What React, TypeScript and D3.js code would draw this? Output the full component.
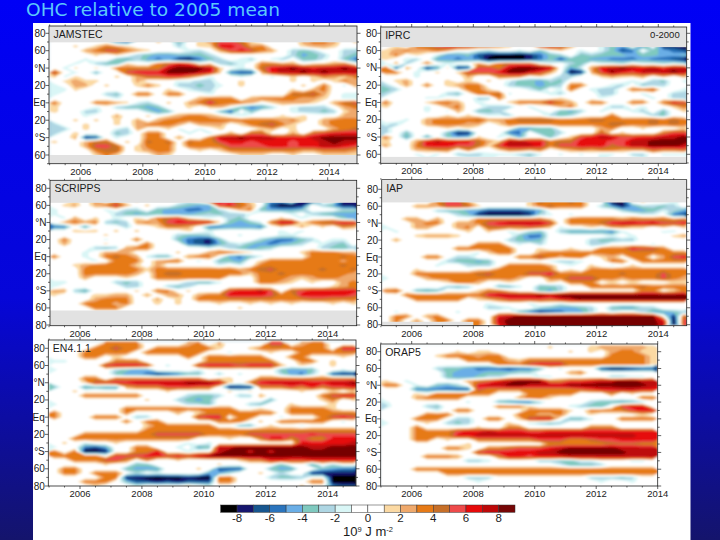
/**
 * Ocean heat content anomaly panels, drawn as filled contours with d3.
 */
import React from 'react';
import * as d3 from 'd3';

// Cell codes: '.' near zero, digit n is +n.5, a..h are -1.5 .. -8.5 (10^9 J m-2).
// Rows go north to south in 5 degree steps, 3 columns per year.
const jamstecRows = [
  '......de.. 1.c.125541 ....2332.1',
  '..1.1321.. ..b.116652 3...1221..',
  '...2355321 ...ab.2565 32.bcb..bb',
  '....1.1.bc ddcccb.... ...bdcb.bc',
  '...a..cdbd edghecb.ab .ab.cca.ce',
  '..a.bcc1.. 3465.1bca. 3322.1123.',
  '.a1.1.3333 3788871.a. 4678767787',
  '5.a.c..566 6888761eff 2677878777',
  '1a1...1.24 45531a..a. .a.1.13213',
  '.1211...2. ..aabb..1. ...1.1.132',
  'a.22.1..13 1.bbcba.1. ....1.3.a2',
  'aa1....... .1.abb.... ...1.23...',
  'a....bc.33 .33..a.... ...4452.aa',
  '......a... ....2333.2 3333221.aa',
  '3...3321ab .1.2363332 .12221.245',
  '1...a.bccd c..1.12.ce db.abbb.23',
  '1..bb....b dc....cf.c ...abbcb12',
  '...a..2..1 .123321.a. ..1.1...22',
  '..1.1.1.2. 2333333333 33231.2333',
  'b..1..1.23 332.222.13 4531..2333',
  'bb.1..ab2. .1a.a.1... 12.1...234',
  'b.1...cb.3 3..a.a.2.4 4..2.45666',
  '..2gf.a..3 3.2..37787 7766678888',
  '1..244.1.4 34.4335665 6665667877',
  '...2554.13 33.3333555 5665667765',
  '....344.12 33..1.1333 3333223332',
  '....131... 21......11 1..1..1111',
];

const iprcRows = [
  '.1.3456654 421..5652. .acd.d.ggh',
  '1232232..a b..a.c.1.a .acfe.cdef',
  '13.1.addcf ghhhgecb.c bcccdccddc',
  '1.ab.ddede hhhhgecfcc ddeeedeefg',
  'a2b.3.a..2 .3444.a.bc .aab.aabab',
  '3f2.gd1gf5 5378887.da 2678767577',
  '33.a.1.155 5688752.hg 2586577787',
  '...a....2. .333.1.bb. .12112.2.2',
  '.12...1.1. 1.accdbc.. ....a.bc.a',
  'b.2.3.1233 ..bccdcb33 ..ab.cbb..',
  'cb......33 1...ac.a3. abb.334..a',
  'b.....bc.3 34a...ab.. .bb..a..bb',
  '....aa...b b3.....1.. .a....a.bb',
  '3...1332.a ..1333632. 33..33.365',
  '1...a.23.. bbb.a..23. ..bb.a..13',
  '....a.a2.c cb...a.cdb .a..ab.c.1',
  '......1.1. aab...bcb. ..3...bc..',
  '..a.233334 2234444333 4433334343',
  'ab..233322 .133333333 3344334343',
  'b.....1.1. ...ddcc... .23..1...1',
  'b.c...cgg. ..ee.ccb.. .4.1...355',
  '3.d.d.cdc1 .a.d..c.15 6775566778',
  '1..2676664 2177663446 6655778888',
  '2..3666554 1577763556 6645778887',
  '...2233.3. .13323.123 2332224334',
  '...a.a.bbb aaabca.a.a .aa.bb.aaa',
  '....a...aa a...a..... .a...a....',
];

const scrippsRows = [
  '..1.2.2.1. ...a.46531 .dd.gg..gg',
  '.12.2362.1 ..bcdd5642 .fhhg.bdgg',
  'a....a.bb. cddeedb.23 cdddc...bb',
  'a.....bcdc cdddcbcbba ...a.bcddd',
  '.a2.1.a.1. 3451.a.bc. ..1.a...cd',
  '.2323bcb23 2566661cdc a377134566',
  'ee.d...b.. 1332.eeddd e.1.2.1.32',
  '..111.1.1. ...1.a.... ..a.a.....',
  '.....1.... ..bccb..a. ..aa......',
  '.3...a..3. ..cefgc... bdeecb.aa.',
  '.2...1...3 ...efgdbac dedcb.abc.',
  '....bcb233 .....a.bcd cb....bccb',
  '...a.222.. ..1..23321 ....133322',
  '3..a.3432a cc.233.dec a....33343',
  '....a.333. 233.a.ccd. 1333333323',
  '..1233331. 2.....a.a. 3333333343',
  '...3333331 3333333323 4533334334',
  '...333332. 3443333331 3343333332',
  '...2...1.. 3333333... 3332123322',
  'aa....bcb. ...bcca... 3321.1..23',
  'a......bb. .bcb...... .......123',
  '22bd....1. 33.1...566 75.4566666',
  '1...1122.2 .22.233666 6533666665',
  '....2333.. 2.1.333333 3333344333',
  '...33323.. 1.1...1..1 .1.1...1.1',
  '....333... ........1. ..........',
  '.......... .......... ..........',
];

const iapRows = [
  '.....3552. ....143343 ..hh.1..a.',
  '...2225541 ....134333 .bdgdbbcb.',
  '.....bccdd ffffed.... ...bddcabd',
  '.......bcg hhhhgba.a. .....aa.ef',
  '..22.2...3 3333331.33 3332333323',
  '...233.223 5677775.33 3467767556',
  'a..22..23. 4433431a.. 1.2211.1.1',
  '.a......1. 1.a.bc.bdd ddea...aa.',
  '...12221.. ...cee.... ..a.a...12',
  '.2........ ..bcdc.... bccbb.....',
  '.........3 33.a.b.... bb....a...',
  '.......333 333..1..1. .3336553..',
  '.........a 133..23333 3333333333',
  '....33.bb. ...3353233 .12.33.256',
  '......bccd c.....abba ..33.33333',
  '.....a..bb b.33332.a. 1.a.1.....',
  '...1.....1 1333333.1. 3333333333',
  '...3333334 5333556333 3334333533',
  'a...233333 3332..3355 5332333532',
  '......1332 ..1...1.33 3.1.1...11',
  '......bcb. .cca.ccb.. 3333343333',
  '34.cdc...1 331..cdb.. .....33.13',
  '..33333333 6777787888 8888888888',
  '...33333.1 2355554678 8888888888',
  '.......... a...a..a.. ..........',
  '.......... bba..bcddc b.cddbb...',
  '.a.....a.. ...cegfedd b.a..bddcb',
  '.33.23.... .678888888 8888888.g4',
  '.3.2.33.33 .788888888 88888886h5',
  '.3.3.3..33 .688888888 88888887h5',
];

const en4Rows = [
  '.....3333. ...23.2... .55.233...',
  '....33533. 3333331..1 3333333.66',
  '...33333.3 33333..a.. .1..333333',
  '...33.1... ...3.33333 3..33...1.',
  'aa....333. .....33333 33..33.1..',
  '.....56665 .a..566656 662.1..1..',
  'a.....bcdd ....a..... ..cddc..a.',
  '......cdde gfecc.b.a. ..bdeb.fgg',
  '...33.3333 33333.11.. 3333333333',
  '...1556677 77788871.3 6777766778',
  'c..dcdd233 355544.hgg 3335363556',
  '..1....... .1.....1.1 ....1..1.1',
  '...333333. ...bccb.bb 2.....3566',
  '.........1 ..bcdc.... .c....13.1',
  'a......... ...bbc...b c..1...1..',
  '.......333 33333333.. 1..33331..',
  '3......3.. ..2.133333 33.3333333',
  '3...333.bb ....566.33 ..a...3565',
  '.......3.3 3.....333. 1.33333.a.',
  '.........1 333333..cc .1..a.....',
  '.........3 3333333333 3333333333',
  '...3333333 5555533335 5555565555',
  '..33333333 3333...1.. 3663533666',
  '.1.a..1... ...a.a.... ....666667',
  'a..efd..33 ..a.dc7788 8888877888',
  '3.3hhg..33 6..a..7887 8788888888',
  '33333.5556 6565788888 8888888888',
  '..333553.3 ..1.....13 3665566666',
  '.....1..cc ......1... ..c..d.b..',
  '.33....cdd d...1.fff. .cdd..cdee',
  '.33.333.b. a....ddb.. 1.b..ggggg',
  '.....33ggh hhhghh33.. .bccb..hhh',
  '...333.cff gfgfff33.. .....33hhh',
  '....1...a. ...1.a.... ....1..eff',
];

const orapRows = [
  '.......... ......1... 1222221',
  '.......1.1 1.......1. 1.23311',
  '.....13332 33........ ..33331',
  '........33 3321333333 3333331',
  '.......... .333566633 3333331',
  '.....bccde eefeec.a.. .fhhgff',
  '......cddd cccbb...23 .......',
  '......cddc bb...aa... ..bbaa.',
  '1.a.....23 4678883355 6778877',
  '33.a.cdb.6 7788777788 8888887',
  '...eeeeff5 3333333334 5667766',
  '...1.33333 3...33333. ..3.1..',
  '...23333.. ...2331... .....33',
  'a.......a. .cdeeb.... bccdcb.',
  'b...bc.... .3331...ab cc.566.',
  '.....a.33. ....33331. 3333566',
  '....333... ...33223.. 1....1.',
  '...333.bb. 33.1566.cc a..3333',
  'a...1.bcb. ..1.abcb.. .......',
  '...3.....1 ..33...... 333....',
  '...3333566 7666556666 6666666',
  '...3333667 7777777777 7777766',
  '...33.1..3 3333355533 4556666',
  '........1. ......3333 3344433',
  '......331. 3345556788 8887777',
  '.........5 6666677888 8888777',
  '....3332.. .366566677 7777777',
  '........bb a....bbcca a...aa.',
  '.......... .......acc cb.....',
  '...3333333 3333333333 3333333',
  '......3333 3333333333 3333333',
  '........bb b......... bbbcb..',
  '.........a .......... .a..a..',
  '.......... .......... .......',
];

const years = [2006, 2008, 2010, 2012, 2014];
const latTicks = [80, 60, 40, 20, 0, -20, -40, -60, -80];
const latLabels = ['80', '60', '°N', '20', 'Eq', '20', '°S', '60', '80'];
const colorLevels = d3.range(-9, 9);
const colorValues = [
  '#000000', '#16166e', '#17568f', '#2a74bd', '#6aaee6', '#7fc9bf', '#aed6e3', '#d9f6f6', '#ffffff',
  '#ffffff', '#fbd9a3', '#efa96c', '#e67a16', '#c76f28', '#ee4a4a', '#e60a0a', '#bd0808', '#760606',
];
const barTicks = [-8, -6, -4, -2, 0, 2, 4, 6, 8];

interface Panel {
  id: string;
  name: string;
  rows: string[];
  firstLat: number;
  lastYear: number;
  endYear: number;
  left: number;
  right: number;
  top: number;
  bottom: number;
  x0: number; // pixel of 2006
  x1: number; // pixel of 2014
  lat80: number;
  latLow: [number, number];
  masks: [number, number, number, number][];
  note?: string;
}

const panels: Panel[] = [
  {id: 'jam', name: 'JAMSTEC', rows: jamstecRows, firstLat: 70, lastYear: 2015, endYear: 2014.9,
    left: 49, right: 357, top: 26, bottom: 163.7, x0: 80.7, x1: 329.3, lat80: 33.3, latLow: [-60, 155],
    masks: [[2005, 2015, 90, 69.6], [2005, 2015, -60, -90]]},
  {id: 'iprc', name: 'IPRC', rows: iprcRows, firstLat: 65, lastYear: 2015, endYear: 2014.9, note: '0-2000',
    left: 380.7, right: 686.7, top: 27, bottom: 163.3, x0: 411.7, x1: 658.3, lat80: 33.3, latLow: [-60, 154.3],
    masks: [[2005, 2015, 90, 64], [2005, 2015, -63, -90]]},
  {id: 'scr', name: 'SCRIPPS', rows: scrippsRows, firstLat: 65, lastYear: 2015, endYear: 2014.95,
    left: 50, right: 356.7, top: 180.3, bottom: 325.7, x0: 80, x1: 327.7, lat80: 188.3, latLow: [-80, 325],
    masks: [[2005, 2015, 90, 63], [2005, 2015, -63, -90]]},
  {id: 'iap', name: 'IAP', rows: iapRows, firstLat: 65, lastYear: 2015, endYear: 2014.9,
    left: 381.7, right: 686.7, top: 179.7, bottom: 325.7, x0: 411.7, x1: 658.3, lat80: 189.3, latLow: [-80, 324.7],
    masks: [[2005, 2015, 90, 64.5], [2005, 2008, -76.5, -90]]},
  {id: 'en4', name: 'EN4.1.1', rows: en4Rows, firstLat: 85, lastYear: 2015, endYear: 2014.95,
    left: 48.3, right: 356, top: 340, bottom: 486, x0: 80, x1: 327.7, lat80: 348.3, latLow: [-80, 486],
    masks: []},
  {id: 'orap', name: 'ORAP5', rows: orapRows, firstLat: 85, lastYear: 2014, endYear: 2014,
    left: 380.7, right: 657.7, top: 344, bottom: 486, x0: 411.7, x1: 657.7, lat80: 351.7, latLow: [-80, 486],
    masks: []},
];

const cellValue = (c: string) => {
  if (c >= '0' && c <= '9') return +c + 0.5;
  if (c >= 'a' && c <= 'h') return -(c.charCodeAt(0) - 96 + 0.5);
  return 0;
};

const axisFont = '"Liberation Sans", Arial, sans-serif';

const PanelView: React.FC<{p: Panel}> = ({p}) => {
  const x = d3.scaleLinear().domain([2006, 2014]).range([p.x0, p.x1]);
  const y = d3.scaleLinear().domain([80, p.latLow[0]]).range([p.lat80, p.latLow[1]]);
  const cols = Math.round((p.lastYear - 2005) * 3);
  const grid = p.rows.map((r) => r.replace(/ /g, '').padEnd(cols, '.').slice(0, cols));
  const values = grid.flatMap((r) => Array.from(r).map(cellValue));

  // Grid coordinates to pixels
  const gx = d3.scaleLinear().domain([0, cols]).range([x(2005), x(p.lastYear)]);
  const gy = d3
    .scaleLinear()
    .domain([0, grid.length])
    .range([y(p.firstLat + 2.5), y(p.firstLat + 2.5 - grid.length * 5)]);
  const path = d3.geoPath(
    d3.geoTransform({
      point(px, py) {
        this.stream.point(gx(px), gy(py));
      },
    }),
  );
  const contours = d3
    .contours()
    .size([cols, grid.length])
    .thresholds(colorLevels.slice(1))(values);

  const minorYears = d3.range(2005, p.endYear + 0.01, 0.5);
  const minorLats = d3.range(-80, 90, 10).filter((d) => y(d) >= p.top && y(d) <= p.bottom + 0.5);
  const shownLats = latTicks.filter((d) => y(d) >= p.top && y(d) <= p.bottom + 0.7);

  return (
    <g fontFamily={axisFont} fill="#1c1c1c">
      <clipPath id={`clip-${p.id}`}>
        <rect x={p.left} y={p.top} width={p.right - p.left} height={p.bottom - p.top} />
      </clipPath>
      <g clipPath={`url(#clip-${p.id})`}>
        <rect x={p.left} y={p.top} width={p.right - p.left} height={p.bottom - p.top} fill="#fff" />
        <g filter="url(#soft)">
          {/* values below the lowest threshold stay black */}
          <rect
            x={gx(0) + 2}
            y={gy(0) + 2}
            width={gx(cols) - gx(0) - 4}
            height={gy(grid.length) - gy(0) - 4}
            fill={colorValues[0]}
          />
          {contours.map((c, i) => (
            <path key={i} d={path(c as any) || ''} fill={colorValues[i + 1]} />
          ))}
        </g>
        {p.masks.map((m, i) => (
          <rect
            key={i}
            x={x(m[0])}
            y={y(m[2])}
            width={x(m[1]) - x(m[0])}
            height={y(m[3]) - y(m[2])}
            fill="#e2e2e2"
          />
        ))}
      </g>
      <rect
        x={p.left}
        y={p.top}
        width={p.right - p.left}
        height={p.bottom - p.top}
        fill="none"
        stroke="#222"
        strokeWidth={0.8}
      />
      {minorYears.map((d) => {
        const major = d % 2 === 0;
        const len = major ? 3 : 1.5;
        return (
          <g key={d} stroke="#222" strokeWidth={0.7}>
            <line x1={x(d)} x2={x(d)} y1={p.top} y2={p.top - len} />
            <line x1={x(d)} x2={x(d)} y1={p.bottom} y2={p.bottom + len} />
          </g>
        );
      })}
      {minorLats.map((d) => {
        const len = d % 20 === 0 ? 3.5 : 2;
        return (
          <g key={d} stroke="#222" strokeWidth={0.7}>
            <line x1={p.left} x2={p.left - len} y1={y(d)} y2={y(d)} />
            <line x1={p.right} x2={p.right + len} y1={y(d)} y2={y(d)} />
          </g>
        );
      })}
      {years.map((d) => (
        <text key={d} x={x(d)} y={p.bottom + 11} fontSize={9.5} textAnchor="middle">
          {d}
        </text>
      ))}
      {shownLats.map((d) => (
        <text key={d} x={p.left - 3.5} y={y(d) + 3.5} fontSize={10} textAnchor="end">
          {latLabels[latTicks.indexOf(d)]}
        </text>
      ))}
      <text x={p.left + 4.5} y={p.top + 12} fontSize={10.5}>
        {p.name}
      </text>
      {p.note && (
        <text x={p.right - 7} y={p.top + 11} fontSize={9.5} textAnchor="end">
          {p.note}
        </text>
      )}
    </g>
  );
};

const ColorBar: React.FC = () => {
  const x = d3.scaleLinear().domain([-9, 9]).range([220.7, 515]);
  return (
    <g fontFamily={axisFont} fill="#1c1c1c">
      {colorLevels.map((d, i) => (
        <rect
          key={d}
          x={x(d)}
          y={505}
          width={x(d + 1) - x(d)}
          height={7.3}
          fill={colorValues[i]}
          stroke="#333"
          strokeWidth={0.5}
        />
      ))}
      {barTicks.map((d) => (
        <text key={d} x={x(d)} y={522} fontSize={11.5} textAnchor="middle">
          {d}
        </text>
      ))}
      <text x={368} y={536} fontSize={13} textAnchor="middle">
        10
        <tspan dy={-4} fontSize={7.5}>
          9
        </tspan>
        <tspan dy={4}> J m</tspan>
        <tspan dy={-4} fontSize={7.5}>
          -2
        </tspan>
      </text>
    </g>
  );
};

export default function App() {
  return (
    <svg
      width={720}
      height={540}
      style={{position: 'fixed', left: 0, top: 0, display: 'block'}}
    >
      <defs>
        <linearGradient id="bg" x1="0" y1="0" x2="0" y2="1">
          <stop offset="0" stopColor="#0000f6" />
          <stop offset="0.55" stopColor="#0606d8" />
          <stop offset="1" stopColor="#14146c" />
        </linearGradient>
        <filter id="soft" x="-2%" y="-2%" width="104%" height="104%">
          <feGaussianBlur stdDeviation={0.85} />
        </filter>
      </defs>
      <rect width={720} height={540} fill="url(#bg)" />
      <rect x={33} y={23} width={657.5} height={517} fill="#fff" />
      <text
        x={26}
        y={16}
        fontFamily='"DejaVu Sans", sans-serif'
        fontSize={17}
        fill="#5cc8fa"
        textLength={254}
        lengthAdjust="spacingAndGlyphs"
      >
        OHC relative to 2005 mean
      </text>
      {panels.map((p) => (
        <PanelView key={p.id} p={p} />
      ))}
      <ColorBar />
    </svg>
  );
}
